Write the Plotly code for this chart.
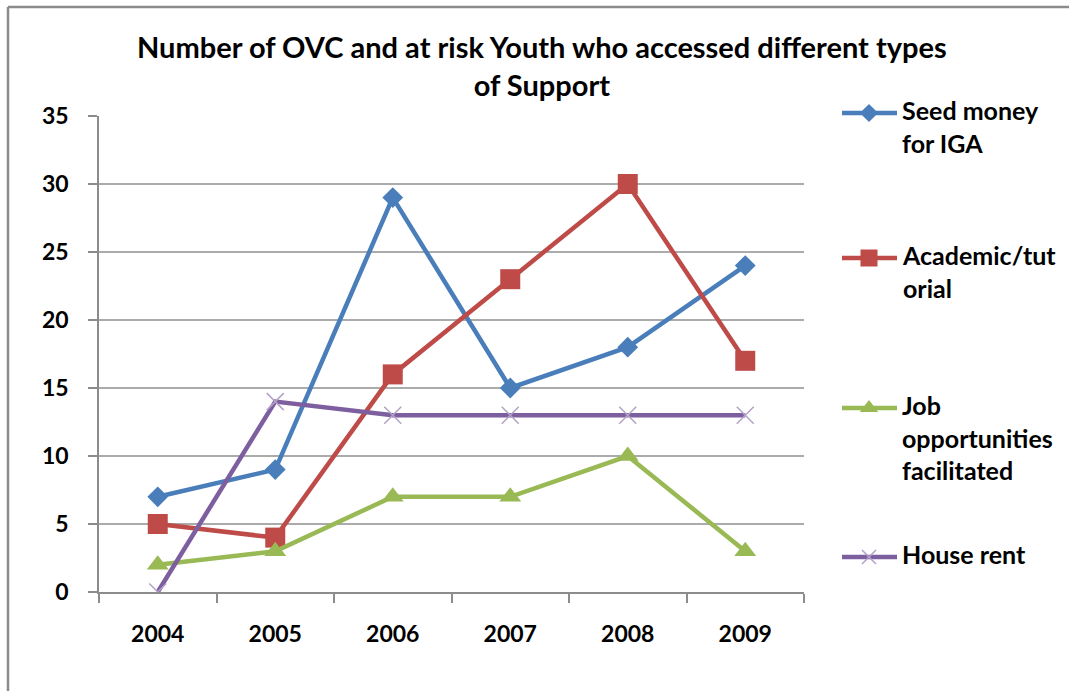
import plotly.graph_objects as go

W, H = 1069, 691

years = ["2004", "2005", "2006", "2007", "2008", "2009"]
seed_money = [7, 9, 29, 15, 18, 24]
academic = [5, 4, 16, 23, 30, 17]
job_opps = [2, 3, 7, 7, 10, 3]
house_rent = [0, 14, 13, 13, 13, 13]

series_names = ["Seed money<br>for IGA", "Academic/tut<br>orial",
                "Job<br>opportunities<br>facilitated", "House rent"]
series_values = [seed_money, academic, job_opps, house_rent]
colors = ["#4a7ebb", "#be4b48", "#98b954", "#7d5fa0"]
symbols = ["diamond", "square", "triangle-up", "x-thin-open"]
sizes = [16, 20, 19, 17]

title_text = "Number of OVC and at risk Youth who accessed different types<br>of Support"
FONT = "Lato"

# plot area in pixels
PL, PR, PT, PB = 99, 804, 116, 592


def px_x(p):
    return p / W


def px_y(p):
    return 1 - p / H


def marker_for(sym, sz, col):
    if sym == "x-thin-open":
        return dict(symbol=sym, size=sz, color="#b3a2c7", line=dict(color="#a995c6", width=1.5))
    return dict(symbol=sym, size=sz, color=col, line=dict(color=col, width=0))


fig = go.Figure()

# legend entries drawn on a pixel-space overlay axis (added first so the data sits on top)
leg_y = [113, 258, 408, 557]
for name, col, sym, sz, ly in zip(series_names, colors, symbols, sizes, leg_y):
    fig.add_trace(go.Scatter(x=[842, 869, 897], y=[ly, ly, ly], mode="lines",
                             line=dict(color=col, width=4.5), showlegend=False,
                             hoverinfo="skip", xaxis="x2", yaxis="y2"))
    fig.add_trace(go.Scatter(x=[869], y=[ly], mode="markers",
                             marker=marker_for(sym, round(sz * 0.85), col),
                             showlegend=False, hoverinfo="skip", xaxis="x2", yaxis="y2"))
    fig.add_annotation(x=px_x(900), y=px_y(ly - 20), xref="paper", yref="paper",
                       text="<b>" + name.replace("<br>", "</b><br><b>") + "</b>",
                       showarrow=False, xanchor="left", yanchor="top", align="left",
                       font=dict(family=FONT, size=25, color="#000000"))

for name, vals, col, sym, sz in zip(series_names, series_values, colors, symbols, sizes):
    fig.add_trace(go.Scatter(x=years, y=vals, mode="lines+markers", name=name,
                             line=dict(color=col, width=4.5), marker=marker_for(sym, sz, col),
                             showlegend=False, xaxis="x", yaxis="y"))

fig.add_annotation(x=px_x(542), y=px_y(27), xref="paper", yref="paper",
                   text="<b>" + title_text.replace("<br>", "</b><br><b>") + "</b>",
                   showarrow=False, xanchor="center", yanchor="top", align="center",
                   font=dict(family=FONT, size=29, color="#000000"))

# chart border (left and top edges)
fig.add_shape(type="line", xref="paper", yref="paper", x0=px_x(8), x1=px_x(8),
              y0=px_y(7), y1=0, line=dict(color="#8c8c8c", width=2.5))
fig.add_shape(type="line", xref="paper", yref="paper", x0=px_x(8), x1=1,
              y0=px_y(7), y1=px_y(7), line=dict(color="#8c8c8c", width=2.5))

fig.update_layout(
    width=W, height=H,
    margin=dict(l=0, r=0, t=0, b=0, pad=0, autoexpand=False),
    paper_bgcolor="white", plot_bgcolor="rgba(0,0,0,0)",
    font=dict(family=FONT, color="#000000"),
    xaxis=dict(domain=[px_x(PL), px_x(PR)], type="category", tickson="boundaries",
               ticks="outside", ticklen=9, tickcolor="#8c8c8c", tickwidth=1.5,
               showline=True, linecolor="#8c8c8c", linewidth=1.5, showgrid=False,
               tickfont=dict(family=FONT, size=23), ticklabelstandoff=21,
               range=[-0.5, 5.5], anchor="y", tickprefix="<b>", ticksuffix="</b>",
               automargin=False),
    yaxis=dict(domain=[px_y(PB), px_y(PT)], range=[0, 35], dtick=5,
               ticks="outside", ticklen=9, tickcolor="#8c8c8c", tickwidth=1.5,
               showline=True, linecolor="#8c8c8c", linewidth=1.5,
               showgrid=True, gridcolor="#ababab", gridwidth=1.5, zeroline=False,
               tickfont=dict(family=FONT, size=23), ticklabelstandoff=15,
               anchor="x", tickprefix="<b>", ticksuffix="</b>", automargin=False),
    xaxis2=dict(domain=[0, 1], range=[0, W], visible=False, anchor="y2",
                fixedrange=True, automargin=False),
    yaxis2=dict(domain=[0, 1], range=[H, 0], visible=False, anchor="x2",
                fixedrange=True, automargin=False),
)

fig.write_html("out.html", config={"displayModeBar": False},
               post_script="document.body.style.margin='0';"
                           "document.documentElement.style.overflow='hidden';"
                           "document.body.style.overflow='hidden';")
